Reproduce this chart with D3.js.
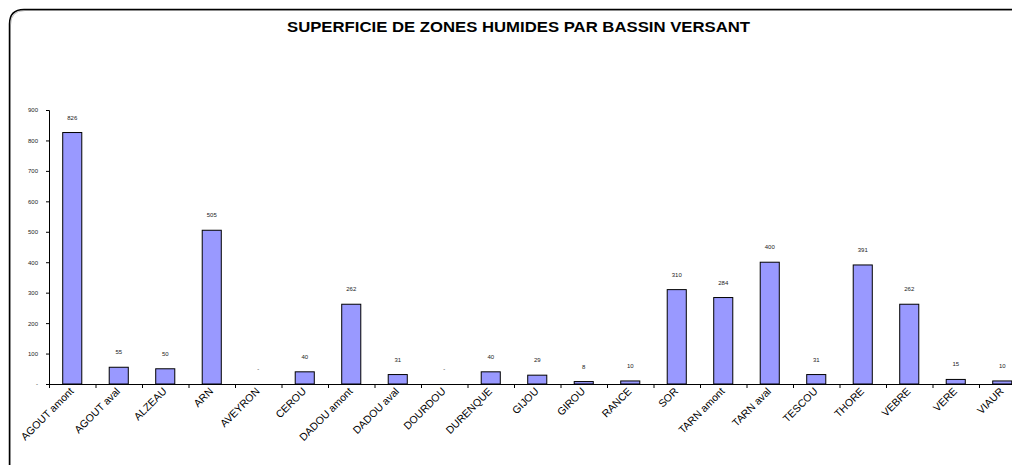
<!DOCTYPE html>
<html>
<head>
<meta charset="utf-8">
<script src="https://cdn.jsdelivr.net/npm/d3@7"></script>
<style>
    body { margin: 0; background: #fff; overflow: hidden; }
    svg { display: block; font-family: Arial, "Liberation Sans", sans-serif; }
    .titulo { font-weight: bold; font-size: 14px; }
    .axis text { font-size: 6px; fill: #222; }
    .axis path, .axis line { stroke: #000; }
    .xlab { font-size: 10.5px; fill: #000; }
    .val { font-size: 6px; fill: #222; }
</style>
</head>
<body>
<div id="graf"></div>
<script>
// Datos
const bassins = ["AGOUT amont", "AGOUT aval", "ALZEAU", "ARN", "AVEYRON", "CEROU", "DADOU amont",
    "DADOU aval", "DOURDOU", "DURENQUE", "GIJOU", "GIROU", "RANCE", "SOR", "TARN amont",
    "TARN aval", "TESCOU", "THORE", "VEBRE", "VERE", "VIAUR"];
const superficies = [826, 55, 50, 505, 0, 40, 262, 31, 0, 40, 29, 8, 10, 310, 284, 400, 31, 391, 262, 15, 10];
const yTicks = [0, 100, 200, 300, 400, 500, 600, 700, 800, 900];
const titre = "SUPERFICIE DE ZONES HUMIDES PAR BASSIN VERSANT";

const data = bassins.map((b, i) => ({ bassin: b, valeur: superficies[i] }));

// Dimensiones
const anchoTotal = 1012;
const altoTotal = 465;
const margins = { top: 110, left: 49, bottom: 81 };
const ancho = 21 * 46.5;
const alto = altoTotal - margins.top - margins.bottom;

const svg = d3.select("#graf")
    .append("svg")
    .attr("width", anchoTotal)
    .attr("height", altoTotal);

// Cadre arrondi
const cadre = "M 9.5 470 L 9.5 24 Q 9.5 9.5 24 9.5 L 1030 9.5";
svg.append("path")
    .attr("d", cadre)
    .attr("fill", "none")
    .attr("stroke", "#bbb")
    .attr("stroke-width", 1)
    .attr("transform", "translate(1,1)");
svg.append("path")
    .attr("d", cadre)
    .attr("fill", "none")
    .attr("stroke", "#000")
    .attr("stroke-width", 1.5);

// Titulo
svg.append("text")
    .attr("x", 287)
    .attr("y", 32)
    .attr("textLength", 463)
    .attr("lengthAdjust", "spacingAndGlyphs")
    .classed("titulo", true)
    .text(titre);

const g = svg.append("g").attr("transform", `translate(${margins.left}, ${margins.top})`);

// Escaladores
const x = d3.scaleBand().domain(bassins).range([0, ancho]).padding(0);
const y = d3.scaleLinear().domain([0, 900]).range([alto, 0]);
const barW = x.bandwidth() * 0.41;

// Rectángulos
g.selectAll("rect.bar")
    .data(data)
    .enter()
    .append("rect")
    .attr("class", "bar")
    .attr("x", d => x(d.bassin) + (x.bandwidth() - barW) / 2)
    .attr("y", d => y(d.valeur))
    .attr("width", barW)
    .attr("height", d => alto - y(d.valeur))
    .attr("fill", "#9999ff")
    .attr("stroke", "#000")
    .attr("stroke-width", 1);

// Etiquetas de valores
g.selectAll("text.val")
    .data(data)
    .enter()
    .append("text")
    .attr("class", "val")
    .attr("x", d => x(d.bassin) + x.bandwidth() / 2)
    .attr("y", d => y(d.valeur) - 13)
    .attr("text-anchor", "middle")
    .text(d => d.valeur === 0 ? "-" : d.valeur);

// Ejes
const yAxis = d3.axisLeft(y).tickValues(yTicks).tickSize(3).tickPadding(8)
    .tickFormat(d => d === 0 ? "-" : d);
g.append("g").classed("axis", true).call(yAxis)
    .call(a => a.select(".domain").attr("d", `M-3,0.5H0.5V${alto}`));

const xAxis = d3.axisBottom(x).tickSize(0).tickFormat("");
const xg = g.append("g").classed("axis", true)
    .attr("transform", `translate(0, ${alto})`)
    .call(xAxis);
xg.select(".domain").attr("d", `M0,0.5H${ancho}`);
xg.selectAll(".sep")
    .data(bassins)
    .enter()
    .append("line")
    .attr("class", "sep")
    .attr("x1", d => x(d) + 0.5)
    .attr("x2", d => x(d) + 0.5)
    .attr("y1", 0)
    .attr("y2", 4)
    .attr("stroke", "#000");

// Etiquetas de eje X
g.selectAll("text.xlab")
    .data(data)
    .enter()
    .append("text")
    .attr("class", "xlab")
    .attr("text-anchor", "end")
    .attr("transform", d => `translate(${x(d.bassin) + x.bandwidth() / 2 + 2}, ${alto + 8}) rotate(-45)`)
    .text(d => d.bassin);
</script>
</body>
</html>
